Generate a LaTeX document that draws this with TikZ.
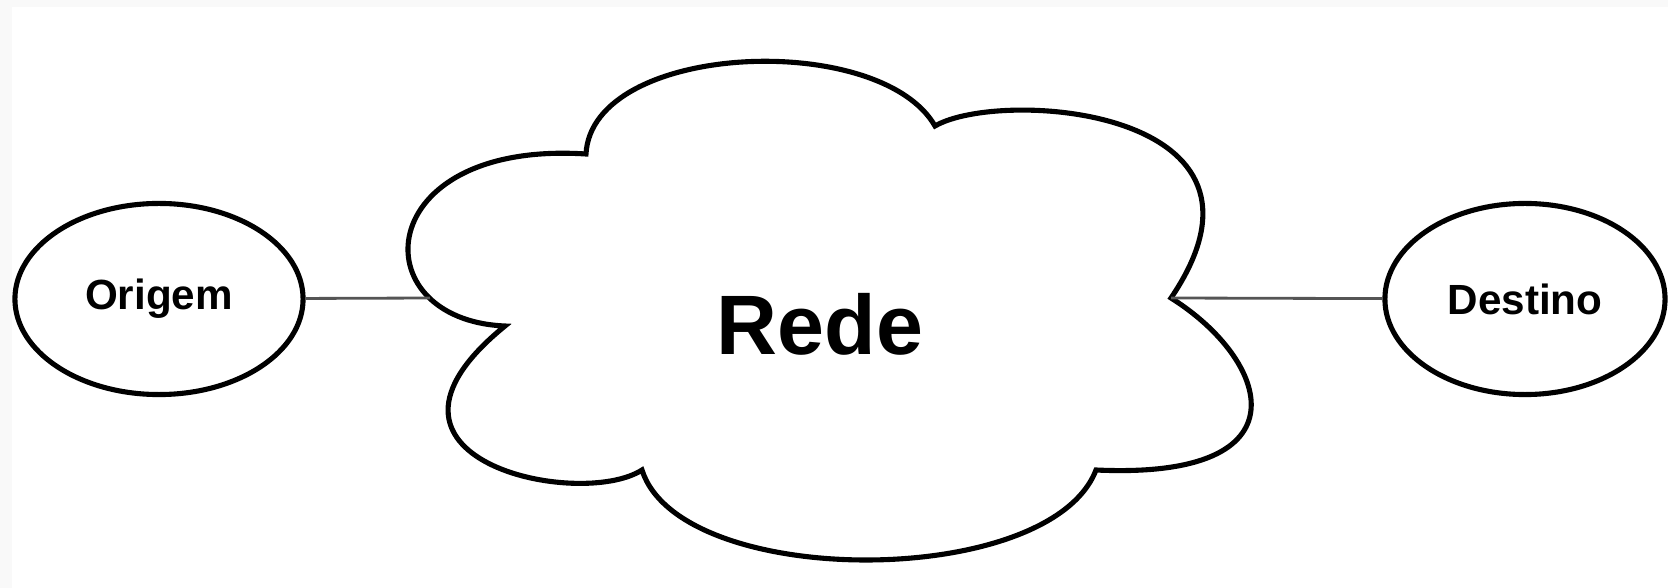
\documentclass[tikz,border=0pt]{standalone}
\usepackage{fontspec}
\setmainfont{Liberation Sans}
\usetikzlibrary{shapes.geometric}
\definecolor{linegray}{RGB}{85,85,85}
\definecolor{edgegray}{RGB}{249,249,249}

\begin{document}
\begin{tikzpicture}[
    x=0.01cm, y=-0.01cm,
    endpoint/.style={
        draw, ellipse, line width=1.45pt, fill=white,
        minimum height=1.91cm, inner sep=0pt,
        font=\fontsize{12}{14}\selectfont\bfseries
    },
    cloudline/.style={draw=black, fill=white, line width=1.45pt},
    link/.style={draw=linegray, line width=0.8pt}
    ]
    % page background
    \fill[edgegray] (0,0) rectangle (1668,588);
    \fill[white] (12,7) rectangle (1668,588);
    \useasboundingbox (0,0) rectangle (1668,588);

    % the network
    \path[cloudline] (586,154)
        .. controls (592,42) and (880,30) .. (935,126)
        .. controls (1000,88) and (1300,108) .. (1171,298)
        .. controls (1270,360) and (1310,480) .. (1096,470)
        .. controls (1050,590) and (680,590) .. (642,470)
        .. controls (580,510) and (340,460) .. (505,326)
        .. controls (360,320) and (370,140) .. cycle;
    \node[font=\fontsize{24}{28}\selectfont\bfseries] (rede) at (820,324) {Rede};
    \coordinate (rede-w) at (430,298);
    \coordinate (rede-e) at (1171,298);

    \node[endpoint, minimum width=2.88cm] (origem) at (159,299) {Origem};
    \node[endpoint, minimum width=2.80cm] (destino) at (1525,299) {Destino};

    \draw[link] (origem) -- (rede-w);
    \draw[link] (rede-e) -- (destino);
\end{tikzpicture}
\end{document}
